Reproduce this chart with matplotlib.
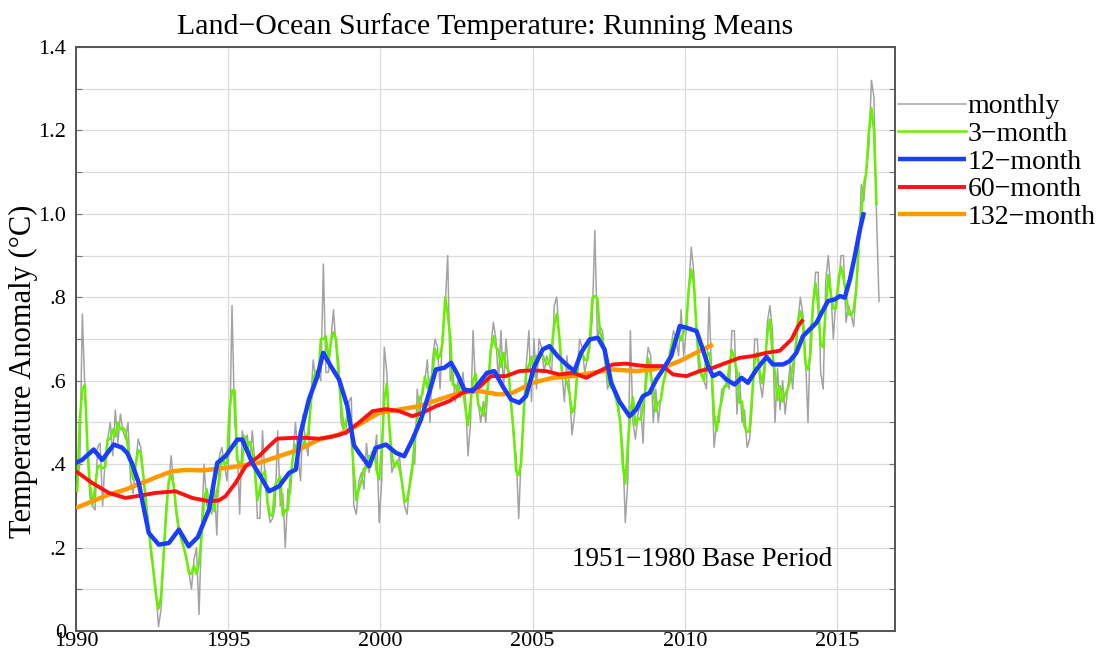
import numpy as np
import pandas as pd
import matplotlib
matplotlib.use("Agg")
import matplotlib.pyplot as plt
from matplotlib.ticker import MultipleLocator, FixedLocator

# ---------------- data ----------------
# monthly anomalies, Dec 1989 .. May 2016
monthly_start = 1989 + 11.5 / 12
monthly_1990s = [
    0.25,
    0.36, 0.40, 0.76, 0.58, 0.43, 0.32, 0.30, 0.29, 0.44, 0.45, 0.30, 0.42,
    0.46, 0.50, 0.42, 0.53, 0.45, 0.52, 0.48, 0.46, 0.50, 0.36, 0.33, 0.40,
    0.46, 0.44, 0.38, 0.30, 0.27, 0.18, 0.15, 0.10, 0.01, 0.05, 0.18, 0.30,
    0.35, 0.42, 0.35, 0.28, 0.24, 0.22, 0.20, 0.18, 0.14, 0.10, 0.17, 0.20,
    0.04, 0.25, 0.40, 0.30, 0.32, 0.28, 0.35, 0.23, 0.42, 0.44, 0.40, 0.36,
    0.45, 0.78, 0.50, 0.45, 0.28, 0.48, 0.45, 0.47, 0.41, 0.48, 0.40, 0.27,
    0.27, 0.48, 0.37, 0.30, 0.26, 0.27, 0.30, 0.48, 0.30, 0.33, 0.20, 0.34,
    0.33, 0.42, 0.50, 0.42, 0.36, 0.52, 0.45, 0.42, 0.55, 0.65, 0.60, 0.62,
    0.60, 0.88, 0.62, 0.62, 0.70, 0.77, 0.68, 0.65, 0.50, 0.48, 0.48, 0.55,
    0.56, 0.30, 0.28, 0.36, 0.38, 0.34, 0.45, 0.38, 0.43, 0.42, 0.47, 0.26,
]
monthly_2000s = [
    0.36, 0.68, 0.62, 0.48, 0.38, 0.40, 0.40, 0.42, 0.35, 0.30, 0.28, 0.36,
    0.40, 0.40, 0.58, 0.52, 0.58, 0.60, 0.65, 0.50, 0.65, 0.70, 0.68, 0.58,
    0.72, 0.78, 0.90, 0.60, 0.62, 0.55, 0.60, 0.56, 0.62, 0.56, 0.42, 0.50,
    0.72, 0.58, 0.55, 0.50, 0.55, 0.50, 0.60, 0.68, 0.74, 0.70, 0.60, 0.72,
    0.58, 0.70, 0.62, 0.55, 0.46, 0.42, 0.27, 0.43, 0.52, 0.64, 0.72, 0.55,
    0.70, 0.58, 0.70, 0.68, 0.62, 0.66, 0.64, 0.62, 0.78, 0.80, 0.70, 0.62,
    0.55, 0.66, 0.58, 0.47, 0.52, 0.62, 0.70, 0.68, 0.62, 0.65, 0.68, 0.75,
    0.96, 0.70, 0.73, 0.72, 0.65, 0.58, 0.60, 0.58, 0.56, 0.56, 0.50, 0.44,
    0.26, 0.36, 0.72, 0.50, 0.46, 0.52, 0.55, 0.45, 0.62, 0.68, 0.66, 0.50,
    0.58, 0.50, 0.56, 0.60, 0.62, 0.64, 0.68, 0.72, 0.70, 0.66, 0.77, 0.66,
]
monthly_2010s = [
    0.72, 0.82, 0.92, 0.86, 0.72, 0.62, 0.62, 0.60, 0.58, 0.80, 0.62, 0.44,
    0.50, 0.50, 0.58, 0.58, 0.60, 0.58, 0.72, 0.72, 0.52, 0.62, 0.50, 0.53,
    0.44, 0.46, 0.54, 0.70, 0.70, 0.60, 0.56, 0.62, 0.74, 0.78, 0.72, 0.50,
    0.63, 0.53, 0.60, 0.52, 0.58, 0.64, 0.58, 0.68, 0.74, 0.80, 0.76, 0.66,
    0.50, 0.72, 0.78, 0.86, 0.86, 0.62, 0.58, 0.84, 0.90, 0.82, 0.70, 0.80,
    0.82, 0.90, 0.90, 0.74, 0.78, 0.76, 0.73, 0.82, 0.90, 1.07, 1.03, 1.11,
    1.16, 1.32, 1.28, 1.00, 0.79,
]

# 12-month running mean
t12 = [1990.00, 1990.20, 1990.58, 1990.86, 1991.24, 1991.50, 1991.68, 1991.85,
       1992.06, 1992.39, 1992.72, 1993.05, 1993.38, 1993.70, 1994.00, 1994.14,
       1994.37, 1994.64, 1994.91, 1995.30, 1995.46, 1995.79, 1996.12, 1996.34,
       1996.67, 1997.00, 1997.22, 1997.38, 1997.65, 1997.93, 1998.12, 1998.37,
       1998.64, 1998.91, 1999.13, 1999.30, 1999.63, 1999.85, 2000.18, 2000.51,
       2000.78, 2001.05, 2001.33, 2001.60, 2001.82, 2002.10, 2002.32, 2002.53,
       2002.75, 2003.03, 2003.30, 2003.50, 2003.74, 2004.01, 2004.29, 2004.56,
       2004.78, 2005.06, 2005.33, 2005.55, 2005.82, 2006.10, 2006.37, 2006.59,
       2006.87, 2007.14, 2007.36, 2007.58, 2007.85, 2008.18, 2008.40, 2008.62,
       2008.84, 2009.06, 2009.28, 2009.55, 2009.83, 2010.05, 2010.38, 2010.59,
       2010.76, 2010.92, 2011.14, 2011.36, 2011.63, 2011.86, 2012.07, 2012.35,
       2012.68, 2012.89, 2013.22, 2013.44, 2013.66, 2013.88, 2014.10, 2014.32,
       2014.49, 2014.70, 2014.93, 2015.09, 2015.25, 2015.42, 2015.58, 2015.75,
       2015.88]
v12 = [0.403, 0.410, 0.435, 0.410, 0.447, 0.440, 0.427, 0.400,
       0.355, 0.235, 0.207, 0.211, 0.243, 0.203, 0.225, 0.250,
       0.291, 0.403, 0.419, 0.459, 0.459, 0.403, 0.363, 0.335,
       0.347, 0.379, 0.387, 0.475, 0.555, 0.611, 0.667, 0.635,
       0.603, 0.539, 0.445, 0.427, 0.395, 0.439, 0.447, 0.427,
       0.419, 0.459, 0.507, 0.571, 0.627, 0.631, 0.643, 0.615,
       0.579, 0.575, 0.600, 0.619, 0.623, 0.587, 0.555, 0.547,
       0.563, 0.635, 0.675, 0.683, 0.659, 0.639, 0.623, 0.667,
       0.699, 0.703, 0.675, 0.595, 0.550, 0.515, 0.531, 0.563,
       0.571, 0.603, 0.627, 0.659, 0.731, 0.727, 0.719, 0.675,
       0.635, 0.611, 0.619, 0.603, 0.591, 0.607, 0.595, 0.627,
       0.657, 0.639, 0.639, 0.647, 0.667, 0.707, 0.723, 0.739,
       0.763, 0.791, 0.795, 0.803, 0.799, 0.843, 0.899, 0.963,
       1.004]

# 60-month running mean
t60 = [1990.00, 1990.53, 1991.08, 1991.62, 1992.06, 1992.61, 1993.27, 1993.82,
       1994.37, 1994.69, 1994.91, 1995.24, 1995.57, 1996.01, 1996.34, 1996.61,
       1997.11, 1997.55, 1997.98, 1998.42, 1998.86, 1999.30, 1999.74, 2000.18,
       2000.62, 2001.05, 2001.38, 2001.82, 2002.26, 2002.70, 2003.25, 2003.63,
       2004.12, 2004.56, 2005.00, 2005.44, 2005.88, 2006.32, 2006.76, 2007.19,
       2007.63, 2008.07, 2008.45, 2008.73, 2009.28, 2009.61, 2010.05, 2010.48,
       2010.92, 2011.36, 2011.80, 2012.24, 2012.68, 2013.12, 2013.50, 2013.72,
       2013.88]
v60 = [0.383, 0.355, 0.331, 0.319, 0.324, 0.331, 0.335, 0.319,
       0.311, 0.313, 0.323, 0.355, 0.395, 0.419, 0.443, 0.461,
       0.463, 0.463, 0.461, 0.466, 0.475, 0.500, 0.527, 0.532,
       0.527, 0.515, 0.523, 0.539, 0.551, 0.571, 0.585, 0.611,
       0.611, 0.623, 0.625, 0.623, 0.615, 0.619, 0.607, 0.623,
       0.639, 0.641, 0.637, 0.635, 0.635, 0.615, 0.611, 0.623,
       0.631, 0.643, 0.655, 0.659, 0.667, 0.672, 0.699, 0.731,
       0.747]

# 132-month running mean
t132 = [1990.00, 1990.53, 1991.08, 1991.62, 1992.17, 1992.72, 1993.16, 1993.60,
        1994.14, 1994.69, 1995.35, 1996.01, 1996.67, 1997.33, 1997.98, 1998.64,
        1999.30, 1999.96, 2000.62, 2001.27, 2001.93, 2002.59, 2003.25, 2003.90,
        2004.34, 2005.00, 2005.66, 2006.32, 2006.97, 2007.63, 2008.40, 2008.95,
        2009.39, 2009.83, 2010.26, 2010.59, 2010.92]
v132 = [0.295, 0.311, 0.327, 0.339, 0.355, 0.371, 0.383, 0.386,
        0.385, 0.389, 0.395, 0.403, 0.419, 0.435, 0.459, 0.471,
        0.495, 0.523, 0.531, 0.539, 0.555, 0.571, 0.575, 0.567,
        0.571, 0.595, 0.607, 0.611, 0.619, 0.627, 0.623, 0.627,
        0.635, 0.647, 0.663, 0.675, 0.687]

series_labels = ["monthly", "3\u2212month", "12\u2212month", "60\u2212month", "132\u2212month"]
x_ticks = [1990, 1995, 2000, 2005, 2010, 2015]
y_ticks = [0, 0.2, 0.4, 0.6, 0.8, 1.0, 1.2, 1.4]
y_ticklabels = ["0", ".2", ".4", ".6", ".8", "1.0", "1.2", "1.4"]

# ---------------- plotting ----------------
plt.rcParams["font.family"] = ["Liberation Serif", "DejaVu Serif"]

monthly = pd.Series(monthly_1990s + monthly_2000s + monthly_2010s)
t_month = monthly_start + np.arange(len(monthly)) / 12.0
three = monthly.rolling(3, center=True).mean()

fig = plt.figure(figsize=(11.04, 6.60), dpi=100)
ax = fig.add_axes([76 / 1104, 1 - 631 / 660, (895 - 76) / 1104, (631 - 47) / 660])

l_m, = ax.plot(t_month, monthly, color="#a3a3a3", lw=1.1, zorder=2)
l_3, = ax.plot(t_month, three, color="#66f000", lw=1.8, zorder=3)
l_132, = ax.plot(t132, v132, color="#ff9900", lw=3.2, zorder=4, solid_capstyle="butt")
l_60, = ax.plot(t60, v60, color="#ff1111", lw=2.8, zorder=5, solid_capstyle="butt")
l_12, = ax.plot(t12, v12, color="#1a3dff", lw=3.2, zorder=6, solid_capstyle="butt")

ax.set_xlim(1990, 2016.9)
ax.set_ylim(0, 1.4)
ax.xaxis.set_major_locator(FixedLocator(x_ticks))
ax.set_xticklabels([str(x) for x in x_ticks])
ax.yaxis.set_major_locator(FixedLocator(y_ticks))
ax.set_yticklabels(y_ticklabels)
ax.yaxis.set_minor_locator(MultipleLocator(0.1))

ax.grid(axis="x", which="major", color="#d9d9d9", lw=0.9, zorder=0)
ax.grid(axis="y", which="both", color="#dcdcdc", lw=0.9, zorder=0)
ax.set_axisbelow(True)

for s in ax.spines.values():
    s.set_color("#555555")
    s.set_linewidth(1.4)

ax.tick_params(axis="both", which="both", direction="in", length=4, width=0.8,
               color="#777777", labelsize=16, right=True, top=False)
ax.tick_params(axis="y", pad=7)
ax.tick_params(axis="x", pad=1, length=0)

ax.set_ylabel("Temperature Anomaly (\u00b0C)", fontsize=22, labelpad=0, y=0.445)
ax.set_title("Land\u2212Ocean Surface Temperature: Running Means", fontsize=21.5, pad=9)

ax.text(2010.58, 0.171, "1951\u22121980 Base Period", fontsize=19.5,
        ha="center", va="center", zorder=7)

fig.legend([l_m, l_3, l_12, l_60, l_132], series_labels,
           loc="upper left", bbox_to_anchor=(898 / 1104, 1 - 94 / 660),
           frameon=False, fontsize=20, handlelength=2.45, handletextpad=0.05,
           labelspacing=0.08, borderpad=0, borderaxespad=0)

fig.savefig("out.png", dpi=100)
